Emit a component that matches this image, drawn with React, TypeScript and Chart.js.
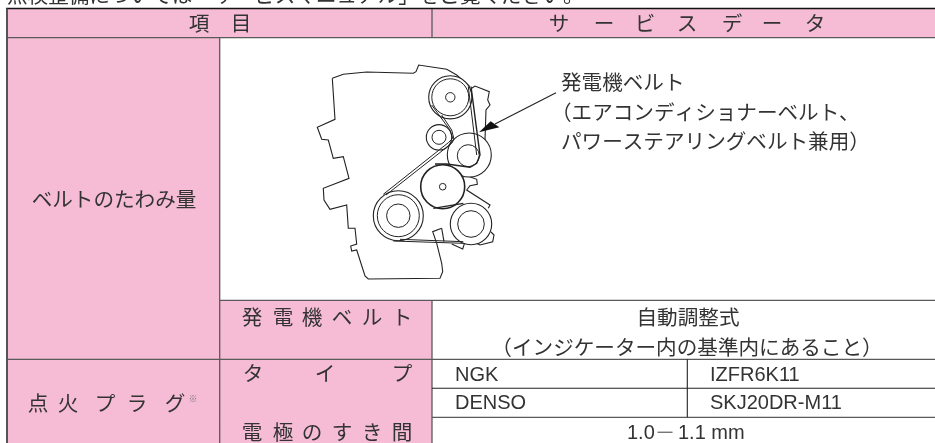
import React, { useEffect, useRef } from "react";
import { Chart, registerables } from "chart.js";

Chart.register(...registerables);

type P = [number, number];
type L = [string, number, number];

const PINK = "#f6bcd6";
const INK = "#333333";
const JP = '"Noto Sans CJK JP"';
const LATIN = '"Liberation Sans"';

// table geometry
const pinkCells: P[] = [[7, 9], [935, 9], [935, 38], [220, 38], [220, 300], [432, 300], [432, 443], [7, 443]];
const blackRules: (P | null)[] = [[6, 8.5], [935, 8.5]];
const greyRules: (P | null)[] = [
  [7, 37.7], [935, 37.7], null,
  [432, 9], [432, 37.7], null,
  [219.7, 37.7], [219.7, 443], null,
  [432, 300.3], [432, 443], null,
  [220, 300.3], [935, 300.3], null,
  [7, 359.3], [935, 359.3], null,
  [432, 417.3], [935, 417.3], null,
];
const thinBlack: (P | null)[] = [[432, 388.3], [935, 388.3], null, [687.3, 359.3], [687.3, 417.3]];
const leftBorder: P[] = [[7, 8.5], [7, 443]];

// engine drawing
const engineOutline: P[] = [
  [332.3, 78.3], [343.3, 74.3], [366.7, 72], [413.3, 73.3], [416, 71.7], [418.7, 65], [446.7, 69.3], [456.7, 75], [470, 86.7],
];
const engineRight: P[] = [
  [471.7, 88.3], [475, 86], [489.3, 91.7], [487.7, 100], [490, 105], [486, 110], [485, 140],
];
const engineLowerRight: P[] = [
  [465, 175], [476.7, 179.3], [477.3, 184.3], [470, 185.7], [466.7, 190], [490, 205], [488.3, 208.3],
];
const engineBottomRight: P[] = [
  [491, 232], [494, 235], [492.7, 241.7], [480, 245], [473.3, 241.7], [465, 241.7], [462.7, 249], [451.7, 244],
];
const engineLower: P[] = [
  [441.7, 228.3], [432.7, 231.7], [436.7, 243.3], [441.7, 263.3], [442.7, 271.7], [440, 278.3], [368.3, 279], [365, 276], [356.7, 250], [351.7, 251], [350.7, 246], [356.7, 244], [355, 228.3], [348.3, 228.3], [346.7, 205], [330, 209.3], [324, 200], [323.3, 188.3], [349, 178.3], [343.3, 156.7], [333.3, 158.3], [328.3, 140], [321.7, 139.3], [317.3, 127.3], [335, 119.3], [332.3, 78.3],
];
const tabRight: P[] = [[441.7, 228.3], [444, 241.7]];

const pulleysBack = [
  { x: 469.3, y: 155, r: 22 },
  { x: 450.3, y: 97.3, r: 21.6 },
  { x: 439, y: 137.3, r: 12.7 },
  { x: 398.3, y: 215.7, r: 25 },
  { x: 471, y: 224, r: 20.7 },
];
const pulleysInner = [
  { x: 468.3, y: 155.7, r: 11 },
  { x: 450.3, y: 97.3, r: 18.5 },
  { x: 450.3, y: 97.3, r: 4.7 },
  { x: 439, y: 137.3, r: 7 },
  { x: 398.3, y: 215.7, r: 21 },
  { x: 398.3, y: 215.7, r: 11.7 },
  { x: 471, y: 224, r: 13.3 },
];
const middlePulley = [{ x: 442.7, y: 186.7, r: 22 }];
const middleHub = [{ x: 442.7, y: 186.7, r: 3.3 }];

const beltOuter: P[] = [[383.3, 194.3], [448.3, 142.7], [452.7, 138.3], [450, 130], [431.7, 105]];
const beltInner: P[] = [[386, 195], [451.7, 143.3], [454, 139.3], [451.7, 130], [441.7, 115]];
const beltRight: P[] = [[471, 86.7], [480, 155], [476.7, 163.3], [470, 167.3], [446.7, 164], [435, 164]];
const beltRight2: P[] = [[468.3, 86.7], [476.7, 155]];
const beltLower: P[] = [[433.3, 208.3], [463.3, 203.3]];
const beltBottom: P[] = [[393.3, 241], [463.3, 243.3]];
const beltBottom2: P[] = [[400, 239.3], [463.3, 241.7]];

const arrowLine: P[] = [[556, 92.7], [495, 124]];
const arrowHead: P[] = [[479, 132.3], [490.7, 121.3], [499.3, 127.3]];

// texts: [text, x centre or left, y centre]
const clippedLine: L = ["点検整備については「サービスマニュアル」をご覧ください。", 7, -5];
const spacedLabels: L[] = [
  ["項", 199, 23], ["目", 241, 23],
  ["サ", 559, 23], ["ー", 604, 23], ["ビ", 645, 23], ["ス", 687, 23], ["デ", 732, 23], ["ー", 772, 23], ["タ", 815, 23],
  ["発", 252, 317], ["電", 283, 317], ["機", 312, 317], ["ベ", 342, 317], ["ル", 372, 317], ["ト", 402, 317],
  ["タ", 253, 373], ["イ", 325, 373], ["プ", 402, 373],
  ["電", 252, 432], ["極", 283, 432], ["の", 312, 432], ["す", 342, 432], ["き", 372, 432], ["間", 402, 432],
  ["点", 38, 403], ["火", 68, 403], ["プ", 105, 403], ["ラ", 137, 403], ["グ", 175, 403],
];
const centredLabels: L[] = [
  ["ベルトのたわみ量", 114, 199],
  ["自動調整式", 688, 317],
  ["（インジケーター内の基準内にあること）", 687, 347],
];
const noteLines: L[] = [
  ["発電機ベルト", 561, 82],
  ["（エアコンディショナーベルト、", 551, 112],
  ["パワーステアリングベルト兼用）", 561, 141],
];
const latinCells: L[] = [
  ["NGK", 455, 375], ["DENSO", 455, 403], ["IZFR6K11", 710, 375], ["SKJ20DR-M11", 710, 403],
  ["1.0", 627, 433], ["1.1 mm", 678, 433],
];
const gapDash: L = ["－", 665, 432];
const noteMark: L = ["※", 193, 399];

const xy = (pts: (P | null)[]) => pts.map((p) => (p ? { x: p[0], y: p[1] } : { x: NaN, y: NaN }));

const line = (pts: (P | null)[], color: string, width: number) => ({
  type: "scatter" as const,
  showLine: true,
  data: xy(pts),
  borderColor: color,
  borderWidth: width,
  pointRadius: 0,
  pointHoverRadius: 0,
  fill: false,
  tension: 0,
  spanGaps: false,
  clip: false,
});
const poly = (pts: P[], color: string) => ({
  ...line(pts, "rgba(0,0,0,0)", 0),
  fill: "shape",
  backgroundColor: color,
});
const circles = (pts: { x: number; y: number; r: number }[], width: number, fillColor: string) => ({
  type: "bubble" as const,
  data: pts,
  borderColor: "#222",
  borderWidth: width,
  backgroundColor: fillColor,
  hoverRadius: 0,
  clip: false,
});

const textPlugin = {
  id: "tableText",
  afterDatasetsDraw(chart: any) {
    const { ctx, scales } = chart;
    const px = (v: number) => scales.x.getPixelForValue(v);
    const py = (v: number) => scales.y.getPixelForValue(v);
    const put = (l: L, font: string, align: CanvasTextAlign, color = INK) => {
      ctx.font = font;
      ctx.textAlign = align;
      ctx.textBaseline = "middle";
      ctx.fillStyle = color;
      ctx.fillText(l[0], px(l[1]), py(l[2]));
    };
    ctx.save();
    const jp = `400 20.6px ${JP}`;
    put(clippedLine, jp, "left");
    spacedLabels.forEach((l) => put(l, jp, "center"));
    centredLabels.forEach((l) => put(l, jp, "center"));
    noteLines.forEach((l) => put(l, jp, "left"));
    latinCells.forEach((l) => put(l, `400 20px ${LATIN}`, "left"));
    put(gapDash, jp, "center", "#777");
    put(noteMark, `400 9px ${JP}`, "center", "#777");
    ctx.restore();
  },
};

export default function App() {
  const ref = useRef<HTMLCanvasElement>(null);
  useEffect(() => {
    const back = [
      poly(pinkCells, PINK),
      line(greyRules, "#5a5a5a", 1.3),
      line(thinBlack, "#222", 1.1),
      line(blackRules, "#111", 1.5),
      line(leftBorder, "#555", 2),
      line(engineOutline, "#222", 1.1),
      line(engineRight, "#222", 1.1),
      line(engineLowerRight, "#222", 1.1),
      line(engineBottomRight, "#222", 1.1),
      line(engineLower, "#222", 1.1),
      line(tabRight, "#222", 1.1),
      circles(pulleysBack, 1.1, "#ffffff"),
      circles(pulleysInner, 1, "rgba(255,255,255,0)"),
      circles(middlePulley, 1.6, "#ffffff"),
      circles(middleHub, 1, "#ffffff"),
      line(beltOuter, "#222", 1),
      line(beltInner, "#222", 1),
      line(beltRight, "#222", 1.4),
      line(beltRight2, "#222", 1),
      line(beltLower, "#222", 1.2),
      line(beltBottom, "#222", 1),
      line(beltBottom2, "#222", 1),
      line(arrowLine, "#222", 1.1),
      poly(arrowHead, "#111"),
    ];
    const chart = new Chart(ref.current as HTMLCanvasElement, {
      type: "scatter",
      data: { datasets: back.map((d, i) => ({ ...d, order: back.length - i })) as any },
      options: {
        animation: false,
        responsive: false,
        maintainAspectRatio: false,
        layout: { padding: 0, autoPadding: false },
        events: [],
        plugins: { legend: { display: false }, tooltip: { enabled: false } },
        scales: {
          x: { type: "linear", display: false, min: 0, max: 935 },
          y: { type: "linear", display: false, min: 0, max: 443, reverse: true },
        },
      },
      plugins: [textPlugin],
    });
    return () => chart.destroy();
  }, []);
  return (
    <canvas
      ref={ref}
      width={935}
      height={443}
      style={{ position: "absolute", left: 0, top: 0, width: 935, height: 443, display: "block", background: "#fff" }}
    />
  );
}
